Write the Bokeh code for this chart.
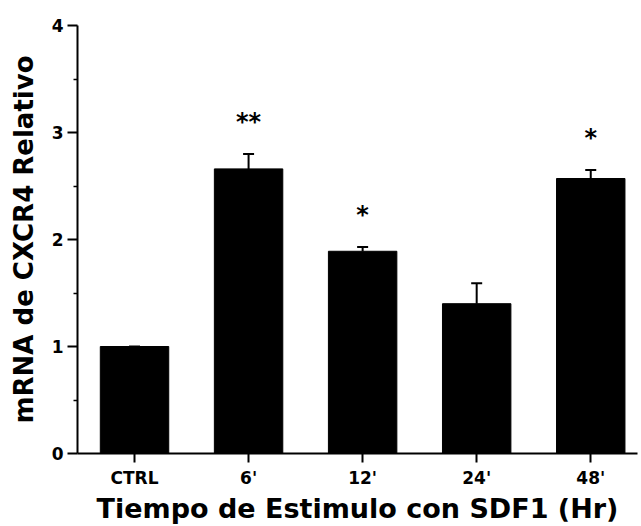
from bokeh.plotting import figure
from bokeh.models import ColumnDataSource, FixedTicker, Range1d, Whisker, TeeHead
from bokeh.embed import file_html
from bokeh.resources import INLINE
from bokeh.core.properties import value

categories = ["CTRL", "6'", "12'", "24'", "48'"]
means = [1.00, 2.66, 1.89, 1.40, 2.57]
errors = [0.0, 0.14, 0.04, 0.19, 0.08]
significance = ["", "**", "*", "", "*"]

xs = list(range(len(categories)))
tops = [m + e for m, e in zip(means, errors)]
star_y = [t + 0.30 for t in tops]

src = ColumnDataSource(dict(x=xs, top=means, upper=tops, sy=star_y, sig=significance))

FONT = "DejaVu Sans"

p = figure(width=638, height=526, output_backend="svg", toolbar_location=None,
           x_range=Range1d(-0.5, 4.41), y_range=Range1d(0, 4),
           min_border_left=77, min_border_right=1, min_border_top=25, min_border_bottom=73)
p.outline_line_color = None
p.grid.visible = False
p.background_fill_color = "white"
p.border_fill_color = "white"

p.vbar(x="x", top="top", bottom=0, width=0.6, source=src, fill_color="black", line_color="black")

w = Whisker(base="x", upper="upper", lower="top", source=src, dimension="height",
            line_color="black", line_width=2,
            upper_head=TeeHead(size=11, line_color="black", line_width=2), lower_head=None)
p.add_layout(w)

p.text(x="x", y="sy", text="sig", source=src, text_align="center", text_baseline="middle",
       text_font=value(FONT), text_font_style="bold", text_font_size="24px", text_color="black")

p.xaxis.ticker = FixedTicker(ticks=xs)
p.xaxis.major_label_overrides = {i: c for i, c in enumerate(categories)}
p.xaxis.major_tick_in = 0
p.xaxis.major_tick_out = 9
p.xaxis.axis_label = "Tiempo de Estimulo con SDF1 (Hr)"

p.yaxis.ticker = FixedTicker(ticks=[0, 1, 2, 3, 4], minor_ticks=[0.5, 1.5, 2.5, 3.5])
p.yaxis.major_tick_in = 0
p.yaxis.major_tick_out = 10
p.yaxis.minor_tick_in = 0
p.yaxis.minor_tick_out = 4
p.yaxis.axis_label = "mRNA de CXCR4 Relativo"

for ax in (p.xaxis[0], p.yaxis[0]):
    ax.axis_line_width = 2
    ax.axis_line_color = "black"
    ax.major_tick_line_width = 2
    ax.major_tick_line_color = "black"
    ax.minor_tick_line_color = "black"
    ax.minor_tick_line_width = 1.5
    ax.major_label_text_font = FONT
    ax.major_label_text_font_style = "bold"
    ax.major_label_text_font_size = "17px"
    ax.major_label_text_color = "black"
    ax.axis_label_text_font = FONT
    ax.axis_label_text_font_style = "bold"
    ax.axis_label_text_color = "black"

p.xaxis.minor_tick_line_color = None
p.xaxis.axis_label_text_font_size = "27px"
p.yaxis.axis_label_text_font_size = "26px"
p.xaxis.major_label_standoff = 5
p.xaxis.axis_label_standoff = 2
p.yaxis.major_label_standoff = 4
p.yaxis.axis_label_standoff = 10

open("out.html", "w").write(file_html(p, INLINE))
